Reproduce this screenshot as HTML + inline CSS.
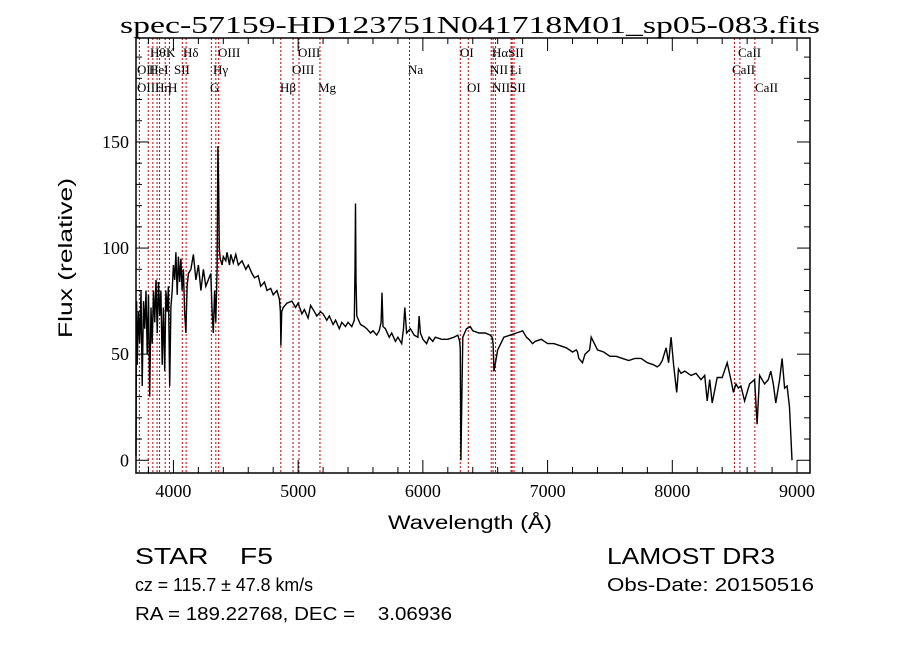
<!DOCTYPE html>
<html><head><meta charset="utf-8">
<style>
html,body{margin:0;padding:0;background:#fff;}
svg{display:block;}
text{font-family:"Liberation Sans Narrow","Liberation Sans",sans-serif;fill:#000;white-space:pre;}
.serif{font-family:"Liberation Serif",serif;}
</style></head>
<body>
<svg id="chart" width="900" height="649" viewBox="0 0 900 649" xml:space="preserve">
<text class="serif" x="470" y="33" text-anchor="middle" font-size="24" textLength="700" lengthAdjust="spacingAndGlyphs">spec-57159-HD123751N041718M01_sp05-083.fits</text>
<g id="lines"></g>
<g id="spec"></g>
<g id="axes"></g>
<text x="470" y="529" text-anchor="middle" font-size="19" textLength="164" lengthAdjust="spacingAndGlyphs">Wavelength (Å)</text>
<text transform="translate(72,258) rotate(-90)" text-anchor="middle" font-size="19" textLength="160" lengthAdjust="spacingAndGlyphs">Flux (relative)</text>
<text x="135" y="564" font-size="23" textLength="138" lengthAdjust="spacingAndGlyphs">STAR    F5</text>
<text x="135" y="591" font-size="18" textLength="178" lengthAdjust="spacingAndGlyphs">cz = 115.7 ± 47.8 km/s</text>
<text x="135" y="620" font-size="18" textLength="317" lengthAdjust="spacingAndGlyphs">RA = 189.22768, DEC =    3.06936</text>
<text x="607" y="564" font-size="23" textLength="168" lengthAdjust="spacingAndGlyphs">LAMOST DR3</text>
<text x="607" y="591" font-size="18" textLength="207" lengthAdjust="spacingAndGlyphs">Obs-Date: 20150516</text>
</svg>
<script>
const waves=[3700,3702,3705,3710,3720,3730,3740,3750,3760,3770,3780,3790,3800,3810,3820,3830,3840,3850,3860,3870,3880,3890,3900,3910,3920,3930,3940,3950,3960,3970,3980,3990,4000,4010,4020,4030,4040,4050,4060,4070,4080,4090,4100,4110,4120,4140,4160,4180,4200,4220,4240,4260,4280,4300,4310,4320,4330,4340,4350,4357,4362,4368,4375,4390,4400,4420,4430,4450,4460,4480,4500,4520,4550,4580,4600,4630,4650,4680,4700,4730,4750,4780,4800,4830,4850,4858,4862,4868,4880,4910,4950,4980,5000,5030,5050,5080,5100,5130,5150,5180,5200,5230,5250,5280,5300,5330,5350,5380,5400,5430,5450,5456,5460,5464,5470,5500,5530,5550,5580,5600,5630,5650,5665,5672,5680,5700,5730,5750,5780,5800,5830,5845,5855,5870,5900,5930,5960,5970,5980,6000,6030,6050,6080,6100,6150,6200,6250,6280,6295,6300,6305,6320,6350,6380,6400,6450,6500,6540,6555,6563,6570,6600,6650,6700,6750,6800,6830,6850,6880,6900,6950,7000,7050,7100,7150,7200,7230,7240,7250,7280,7300,7337,7350,7400,7450,7500,7550,7600,7650,7700,7750,7800,7850,7880,7900,7920,7950,7970,7990,8010,8035,8050,8070,8100,8150,8190,8230,8260,8280,8300,8320,8360,8400,8440,8470,8490,8510,8530,8550,8580,8620,8660,8680,8700,8740,8770,8790,8810,8830,8860,8880,8900,8920,8940,8960,8975,8990,9000,9005];
const flux=[2,30,75,45,70,55,80,35,75,62,80,50,78,30,72,55,80,65,85,60,84,68,80,45,72,42,80,70,82,35,72,80,92,85,98,78,96,84,95,80,90,70,60,82,88,90,97,85,92,80,90,82,85,88,70,60,80,65,90,148,130,100,95,92,96,94,98,92,97,93,97,92,94,90,92,88,86,87,82,84,80,81,78,80,76,70,54,70,72,74,75,72,74,69,71,67,73,70,68,70,69,66,68,64,66,62,65,63,65,63,66,90,121,85,68,64,63,62,60,61,59,61,65,79,63,62,58,60,56,58,55,62,72,60,62,59,58,68,60,57,55,58,56,58,57,57,58,59,56,52,0,58,62,63,61,60,60,59,58,55,42,52,58,59,60,61,58,57,55,56,57,55,55,54,53,51,52,51,48,46,50,52,58,52,51,49,49,48,47,48,48,46,45,44,45,47,53,46,58,45,32,43,41,42,40,41,38,40,28,38,27,39,39,46,38,32,36,34,35,28,36,38,17,40,36,38,42,36,27,38,48,34,35,25,0];
const lineWaves=[3727,3798,3835,3869,3889,3934,3968,4071,4102,4304,4340,4363,4861,4959,5007,5175,5893,6300,6364,6548,6563,6583,6707,6716,6731,8498,8542,8662];
const lineLabels=[
 ["Hθ",150,57],["K",166,57],["Hδ",183,57],["OIII",218,57],["OIII",298,57],["OI",460,57],["Hα",492,57],["SII",508,57],["CaII",738,57],
 ["OII",137,74],["HeI",149,74],["SII",174,74],["Hγ",213,74],["OIII",292,74],["Na",408,74],["NII",490,74],["Li",510,74],["CaII",732,74],
 ["OIII",137,92],["Hη",155,92],["H",168,92],["G",210,92],["Hβ",280,92],["Mg",318,92],["OI",467,92],["NII",492,92],["SII",510,92],["CaII",755,92]];
const xTicks=[4000,5000,6000,7000,8000,9000];
const yTicks=[0,50,100,150];
const X0=3700,X1=9104,Y0=-6,Y1=199,L=136,R=810,T=38,B=473;
const sx=w=>L+(w-X0)/(X1-X0)*(R-L);
const sy=f=>B-(f-Y0)/(Y1-Y0)*(B-T);
const NS="http://www.w3.org/2000/svg";
function mk(tag,attrs,parent){const e=document.createElementNS(NS,tag);for(const k in attrs)e.setAttribute(k,attrs[k]);parent.appendChild(e);return e;}
const gl=document.getElementById('lines');
lineWaves.forEach(w=>{const l=mk('line',{x1:sx(w),x2:sx(w),y1:T,y2:B,stroke:'#c00000','stroke-width':1,'stroke-dasharray':'2,2'},gl);

});
lineLabels.forEach(d=>{const t=mk('text',{x:d[1],y:d[2],'font-size':13,class:'serif'},gl);t.textContent=d[0];

});
const gs=document.getElementById('spec');
let pts=waves.map((w,i)=>sx(w).toFixed(1)+','+sy(flux[i]).toFixed(1)).join(' ');
const pl=mk('polyline',{points:pts,fill:'none',stroke:'#000','stroke-width':1.4},gs);


const ga=document.getElementById('axes');
const fr=mk('rect',{x:L,y:T,width:R-L,height:B-T,fill:'none',stroke:'#000','stroke-width':1.5},ga);


for(let w=3800;w<=X1;w+=200){const x=sx(w),maj=w%1000===0,len=maj?13:6;
mk('line',{x1:x,x2:x,y1:B,y2:B-len,stroke:'#000'},ga);mk('line',{x1:x,x2:x,y1:T,y2:T+len,stroke:'#000'},ga);}
xTicks.forEach(w=>{const t=mk('text',{x:sx(w),y:B+24,'text-anchor':'middle','font-size':18,class:'serif'},ga);t.textContent=w;

});
for(let f=0;f<=Y1;f+=10){const y=sy(f),maj=f%50===0,len=maj?13:6;
mk('line',{x1:L,x2:L+len,y1:y,y2:y,stroke:'#000'},ga);mk('line',{x1:R,x2:R-len,y1:y,y2:y,stroke:'#000'},ga);}
yTicks.forEach(f=>{const t=mk('text',{x:L-7,y:sy(f)+6,'text-anchor':'end','font-size':18,class:'serif'},ga);t.textContent=f;

});
</script>
</body></html>
